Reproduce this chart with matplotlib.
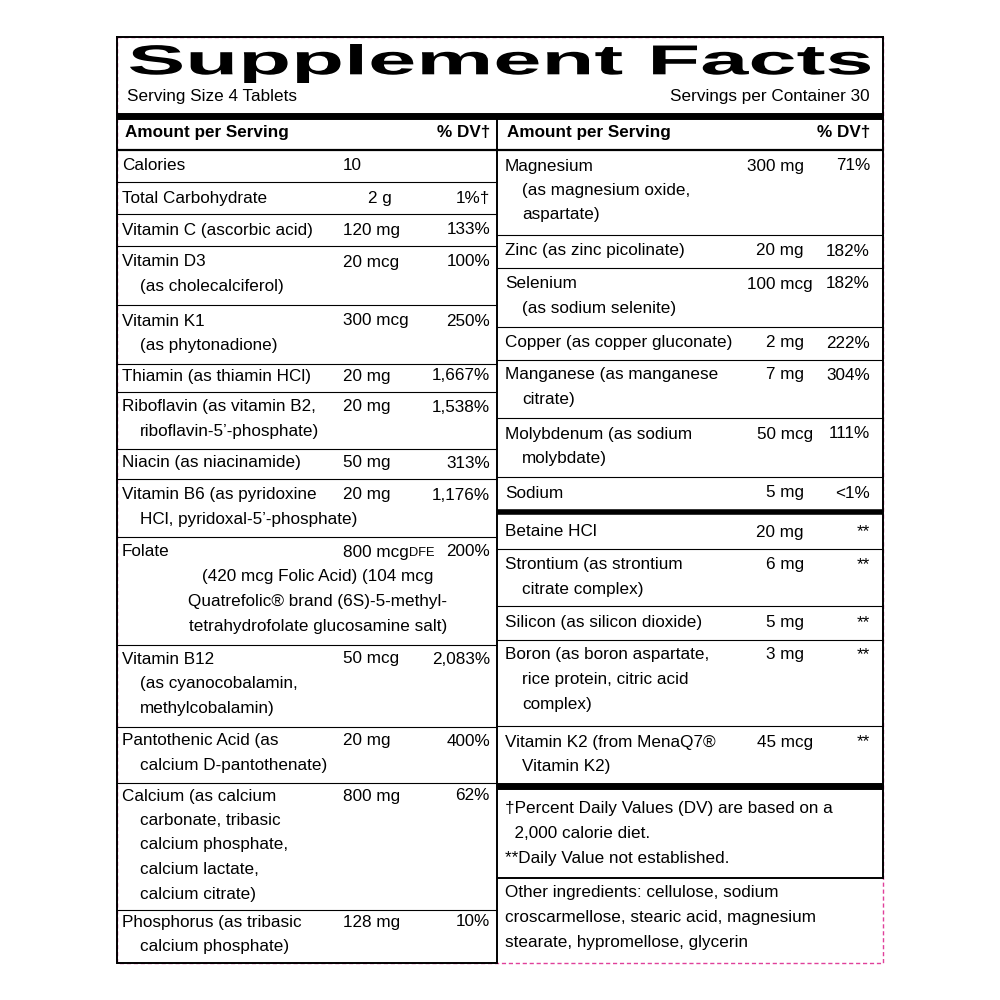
import matplotlib
matplotlib.use("Agg")
import matplotlib.pyplot as plt
from matplotlib.textpath import TextPath
from matplotlib.patches import PathPatch
from matplotlib.font_manager import FontProperties
from matplotlib.transforms import Affine2D

FONT = ['Liberation Sans Narrow', 'Liberation Sans', 'DejaVu Sans']
FS = 12.3

title = "Supplement Facts"
serving_size = "Serving Size 4 Tablets"
servings = "Servings per Container 30"

left_rows = [
    (["Calories"], "10", "", 166, 182),
    (["Total Carbohydrate"], "2 g", "1%†", 198, 214),
    (["Vitamin C (ascorbic acid)"], "120 mg", "133%", 230, 246),
    (["Vitamin D3", "(as cholecalciferol)"], "20 mcg", "100%", 262, 305),
    (["Vitamin K1", "(as phytonadione)"], "300 mcg", "250%", 321, 364),
    (["Thiamin (as thiamin HCl)"], "20 mg", "1,667%", 376, 392),
    (["Riboflavin (as vitamin B2,", "riboflavin-5’-phosphate)"], "20 mg", "1,538%", 407, 449),
    (["Niacin (as niacinamide)"], "50 mg", "313%", 463, 479),
    (["Vitamin B6 (as pyridoxine", "HCl, pyridoxal-5’-phosphate)"], "20 mg", "1,176%", 495, 537),
    (["Folate"], "800 mcg DFE", "200%", 552, 645),
    (["Vitamin B12", "(as cyanocobalamin,", "methylcobalamin)"], "50 mcg", "2,083%", 659, 727),
    (["Pantothenic Acid (as", "calcium D-pantothenate)"], "20 mg", "400%", 741, 783),
    (["Calcium (as calcium", "carbonate, tribasic", "calcium phosphate,", "calcium lactate,", "calcium citrate)"], "800 mg", "62%", 796, 910),
    (["Phosphorus (as tribasic", "calcium phosphate)"], "128 mg", "10%", 922, None),
]
folate_sub = ["(420 mcg Folic Acid) (104 mcg", "Quatrefolic® brand (6S)-5-methyl-",
              "tetrahydrofolate glucosamine salt)"]

right_rows = [
    (["Magnesium", "(as magnesium oxide,", "aspartate)"], "300 mg", "71%", 166, 235),
    (["Zinc (as zinc picolinate)"], "20 mg", "182%", 251, 268),
    (["Selenium", "(as sodium selenite)"], "100 mcg", "182%", 284, 327),
    (["Copper (as copper gluconate)"], "2 mg", "222%", 343, 360),
    (["Manganese (as manganese", "citrate)"], "7 mg", "304%", 375, 418),
    (["Molybdenum (as sodium", "molybdate)"], "50 mcg", "111%", 434, 477),
    (["Sodium"], "5 mg", "<1%", 493, None),
    (["Betaine HCl"], "20 mg", "**", 532, 549),
    (["Strontium (as strontium", "citrate complex)"], "6 mg", "**", 565, 606),
    (["Silicon (as silicon dioxide)"], "5 mg", "**", 623, 640),
    (["Boron (as boron aspartate,", "rice protein, citric acid", "complex)"], "3 mg", "**", 655, 726),
    (["Vitamin K2 (from MenaQ7®", "Vitamin K2)"], "45 mcg", "**", 742, None),
]
footnotes = ["†Percent Daily Values (DV) are based on a", "  2,000 calorie diet.", "**Daily Value not established."]
other = ["Other ingredients: cellulose, sodium", "croscarmellose, stearic acid, magnesium",
         "stearate, hypromellose, glycerin"]

LH = 24.5
fig = plt.figure(figsize=(10, 10), dpi=100)
ax = fig.add_axes([0, 0, 1, 1])
ax.set_xlim(0, 1000); ax.set_ylim(1000, 0); ax.axis('off')

def T(x, y, s, ha='left', bold=False, fs=FS):
    ax.text(x, y, s, ha=ha, va='center', fontsize=fs, family=FONT,
            fontweight='bold' if bold else 'normal', color='black')

def H(y, x0, x1, lw=0.8):
    ax.plot([x0, x1], [y, y], color='black', lw=lw, solid_capstyle='butt')

ax.plot([117, 883, 883, 117, 117], [37, 37, 963, 963, 37], color='#e0409a', lw=1, ls=(0, (3, 2)))
ax.plot([117, 117], [37, 963], color='black', lw=1.4)
ax.plot([117, 883], [37, 37], color='black', lw=1.4)
ax.plot([883, 883], [37, 878], color='black', lw=1.4)
H(963, 117, 497, 1.4)
H(878, 497, 883, 1.4)
ax.plot([497, 497], [116, 963], color='black', lw=1.4)

# title, fitted to the reference box
fp = FontProperties(family=['Liberation Sans', 'DejaVu Sans'], weight='bold')
tp = TextPath((0, 0), title, size=100, prop=fp)
bb = tp.get_extents()
x0, x1, y0, y1 = 130, 870, 44, 83
sx = (x1 - x0) / bb.width; sy = (y1 - y0) / bb.height
tr = Affine2D().translate(-bb.x0, -bb.y1).scale(sx, -sy).translate(x0, y0)
ax.add_patch(PathPatch(tr.transform_path(tp), color='black', lw=0))

T(127, 97, serving_size)
T(870, 97, servings, ha='right')
H(116, 117, 883, 5)

T(125, 133, "Amount per Serving", bold=True)
T(490, 133, "% DV†", ha='right', bold=True)
T(507, 133, "Amount per Serving", bold=True)
T(870, 133, "% DV†", ha='right', bold=True)
H(150, 117, 883, 1.6)

for names, amt, dv, y, rule in left_rows:
    for i, n in enumerate(names):
        T(122 if i == 0 else 140, y + i * LH, n)
    if amt == "2 g":
        T(380, y, amt, ha='center')
    elif amt.endswith("DFE"):
        T(343, y, amt[:-4])
        T(409, y + 1, "DFE", fs=FS - 3)
    else:
        T(343, y, amt)
    T(490, y, dv, ha='right')
    if rule:
        H(rule, 117, 497)
for i, s in enumerate(folate_sub):
    T(318, 577 + i * LH, s, ha='center')

for names, amt, dv, y, rule in right_rows:
    for i, n in enumerate(names):
        T(505 if i == 0 else 522, y + i * LH, n)
    T(804 if 'mcg' not in amt else 813, y, amt, ha='right')
    T(870, y, dv, ha='right')
    if rule:
        H(rule, 497, 883)
H(512, 497, 883, 4)
H(786, 497, 883, 5)

for i, s in enumerate(footnotes):
    T(505, 808 + i * 25, s)
for i, s in enumerate(other):
    T(505, 893 + i * 24.5, s)

fig.savefig("out.png", dpi=100)
